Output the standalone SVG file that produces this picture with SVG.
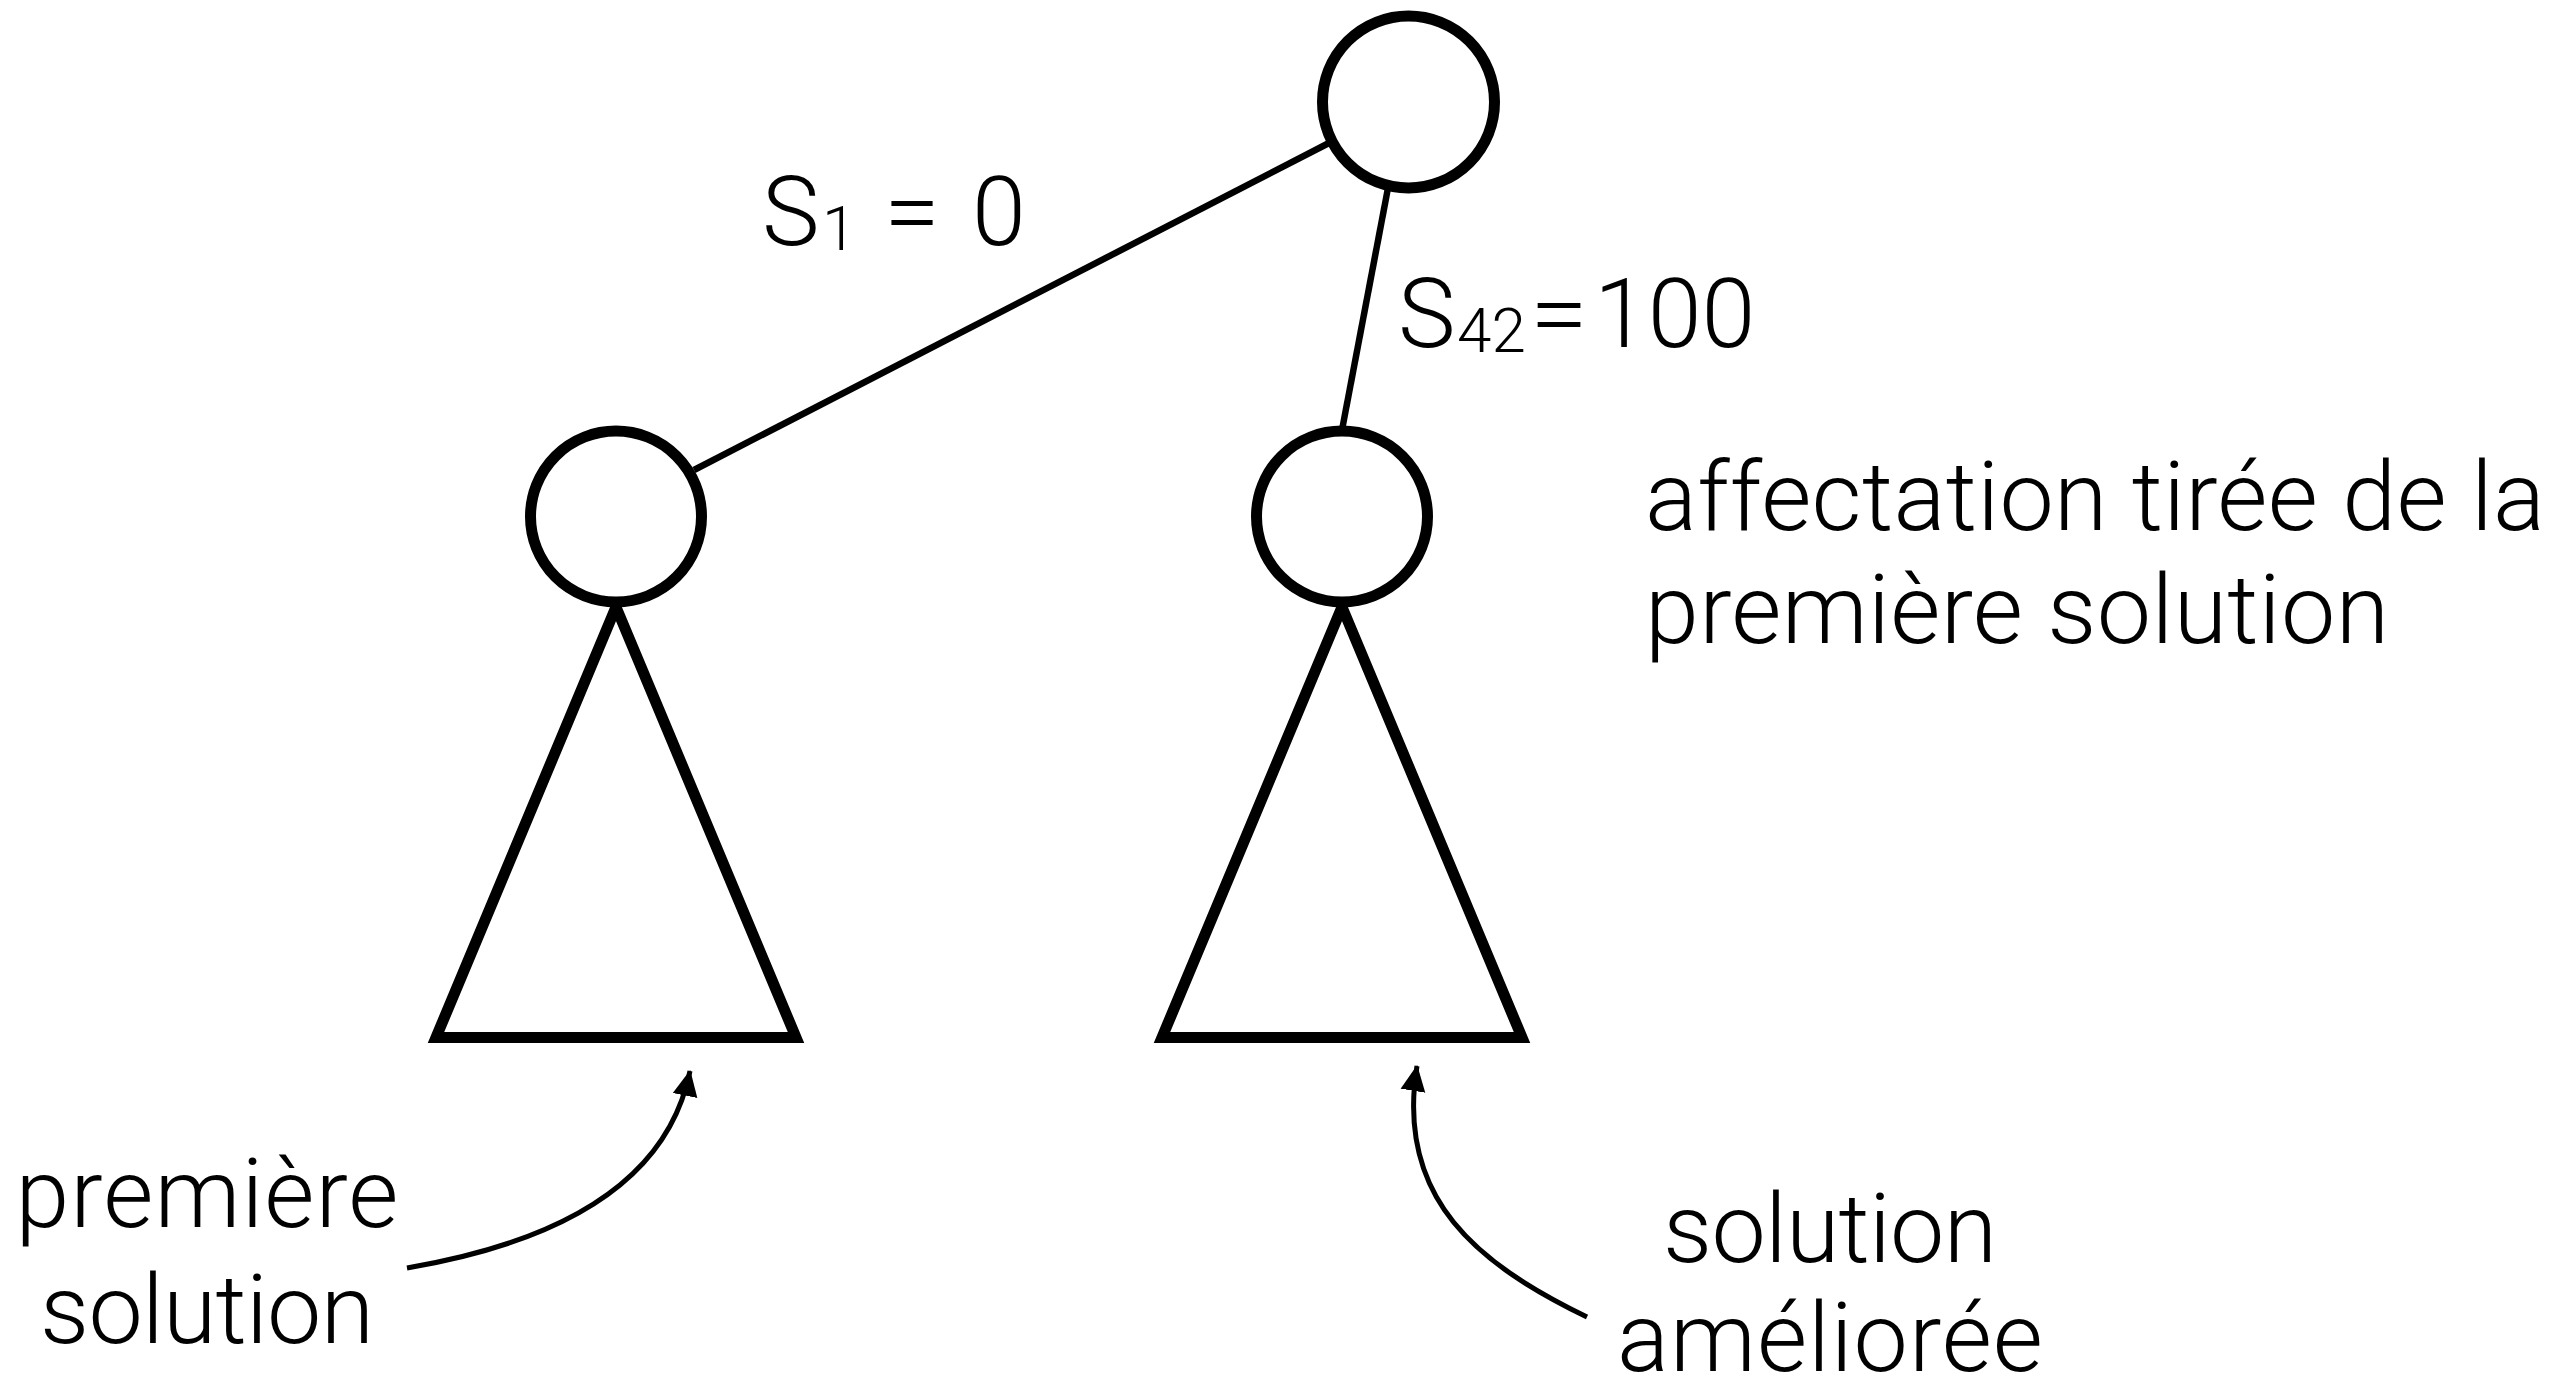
<svg xmlns="http://www.w3.org/2000/svg" width="2572" height="1381" viewBox="0 0 2572 1381">
  <style>
    .node { fill: #ffffff; stroke: #000000; stroke-width: 11; }
    .tri { fill: none; stroke: #000000; stroke-width: 11; stroke-linejoin: miter; stroke-miterlimit: 10; }
    .edge { stroke: #000000; stroke-width: 6.5; fill: none; }
    .pointer { stroke: #000000; stroke-width: 5; fill: none; marker-end: url(#head); }
    text { font-family: Roboto, "Liberation Sans", Arial, sans-serif; font-weight: 300; font-size: 97px; fill: #000000; }
    .sub { font-size: 62px; }
  </style>
  <defs>
    <marker id="head" markerUnits="userSpaceOnUse" markerWidth="28" markerHeight="28" refX="25" refY="13" orient="auto">
      <path d="M0,0.5 L26,13 L0,25.5 z" fill="#000000"/>
    </marker>
  </defs>

  <rect width="2572" height="1381" fill="#ffffff"/>

  <!-- tree edges and pointer arrows -->
  <g id="connectors">
    <line class="edge" x1="1329" y1="143" x2="694" y2="470"/>
    <line class="edge" x1="1388" y1="188" x2="1342" y2="430"/>
    <path class="pointer" d="M407,1268 Q659,1225 690,1071"/>
    <path class="pointer" d="M1587,1317 C1480,1265 1395,1200 1417,1066"/>
  </g>

  <!-- subtrees below each child -->
  <g id="subtree-left">
    <polygon class="tri" points="616,607 796,1037.5 436,1037.5"/>
  </g>
  <g id="subtree-right">
    <polygon class="tri" points="1342,607 1522,1037.5 1162,1037.5"/>
  </g>

  <!-- nodes -->
  <g id="root">
    <circle class="node" cx="1408.5" cy="102" r="86"/>
  </g>
  <g id="child-left">
    <circle class="node" cx="616" cy="516.5" r="85.5"/>
  </g>
  <g id="child-right">
    <circle class="node" cx="1342" cy="516.5" r="85.5"/>
  </g>

  <!-- edge labels -->
  <g id="label-s1">
    <text x="762" y="245">S</text>
    <text class="sub" x="822" y="250">1</text>
    <text x="884" y="245" textLength="56" lengthAdjust="spacingAndGlyphs">=</text>
    <text x="972" y="245">0</text>
  </g>
  <g id="label-s42">
    <text x="1398" y="347">S</text>
    <text class="sub" x="1457" y="352">42</text>
    <text x="1530" y="347" textLength="58" lengthAdjust="spacingAndGlyphs">=</text>
    <text x="1594" y="347">100</text>
  </g>

  <!-- annotations -->
  <g id="note-affectation">
    <text x="1645" y="530" textLength="900">affectation tirée de la</text>
    <text x="1645" y="643" textLength="744">première solution</text>
  </g>
  <g id="note-first">
    <text x="207" y="1227" text-anchor="middle" textLength="383">première</text>
    <text x="207" y="1343" text-anchor="middle" textLength="334">solution</text>
  </g>
  <g id="note-improved">
    <text x="1830" y="1262" text-anchor="middle" textLength="334">solution</text>
    <text x="1830" y="1371" text-anchor="middle" textLength="426">améliorée</text>
  </g>
</svg>
